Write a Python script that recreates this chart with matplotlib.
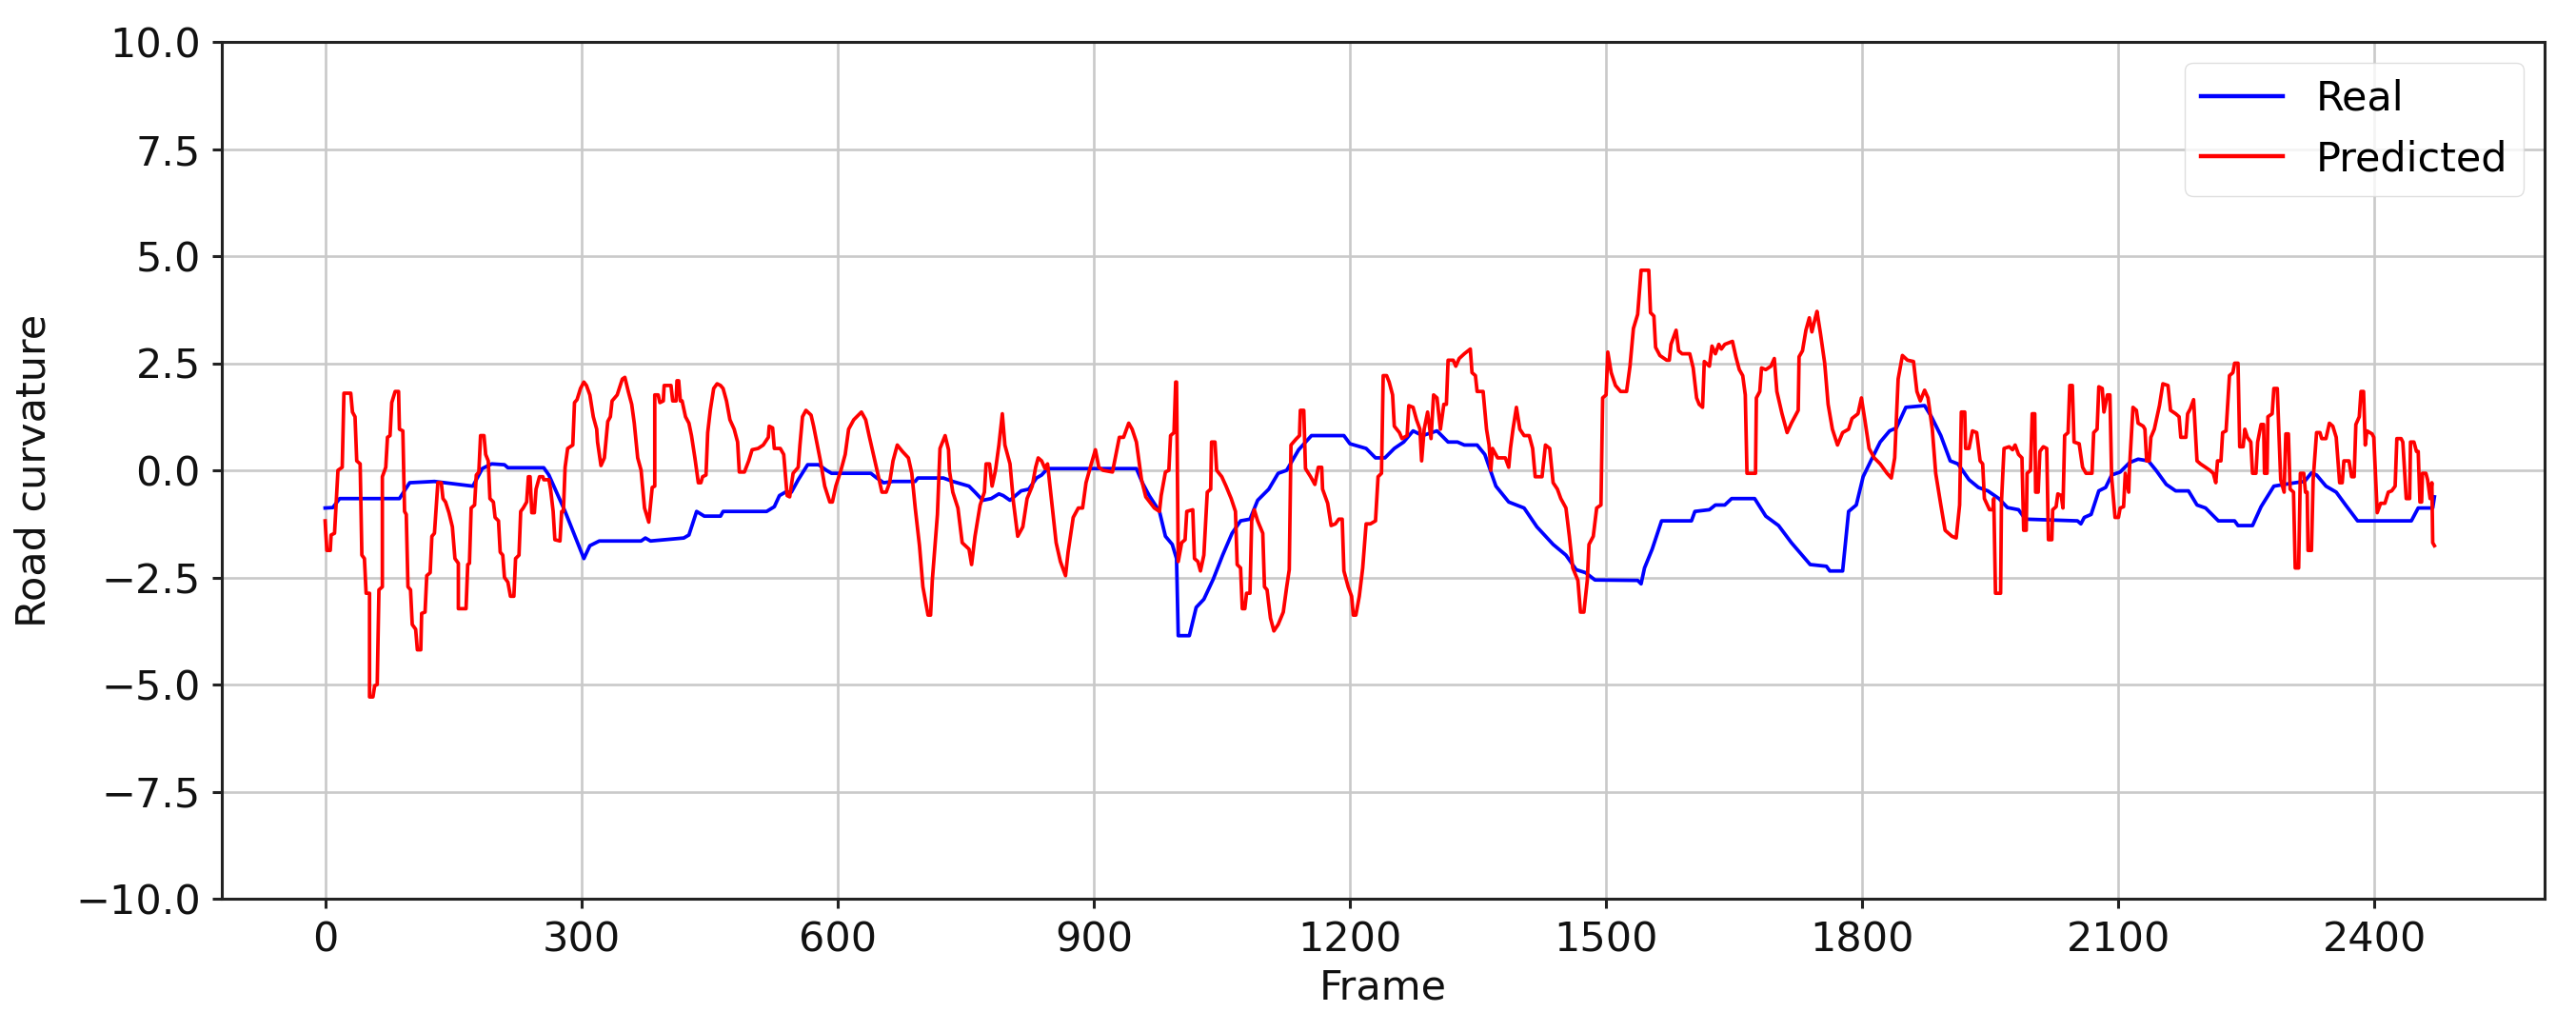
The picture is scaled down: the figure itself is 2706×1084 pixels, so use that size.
import matplotlib
matplotlib.use("Agg")
import matplotlib.pyplot as plt
import numpy as np

# ---------------- data ----------------
real_points = [
    (0, -0.88), (9, -0.87), (17, -0.66), (87, -0.66), (99, -0.29), (128, -0.26), (173, -0.37),
    (184, 0.04), (195, 0.15), (210, 0.13), (214, 0.06), (256, 0.06), (262, -0.11), (281, -0.96),
    (303, -2.06), (310, -1.76), (321, -1.65), (370, -1.65), (375, -1.58), (381, -1.65), (420, -1.58),
    (426, -1.51), (435, -0.96), (444, -1.07), (463, -1.07), (466, -0.96),
    (517, -0.96), (526, -0.85), (532, -0.59), (539, -0.51), (546, -0.51), (554, -0.22), (565, 0.13),
    (578, 0.13), (587, 0.0), (593, -0.07), (639, -0.07), (646, -0.18), (654, -0.29), (665, -0.26),
    (691, -0.26), (694, -0.18), (724, -0.18), (735, -0.26), (754, -0.37), (761, -0.51), (770, -0.70),
    (780, -0.66), (789, -0.55), (794, -0.59), (802, -0.70), (815, -0.48), (824, -0.44), (833, -0.18),
    (839, -0.11), (846, 0.04), (950, 0.04), (957, -0.29), (965, -0.59),
    (977, -0.96), (984, -1.54), (992, -1.73), (997, -2.06), (999, -3.86), (1012, -3.86), (1020, -3.20),
    (1029, -3.01), (1040, -2.54), (1051, -1.98), (1062, -1.47), (1072, -1.18), (1083, -1.14),
    (1092, -0.70), (1105, -0.44), (1116, -0.07), (1126, 0.0), (1140, 0.48), (1155, 0.81), (1193, 0.81),
    (1200, 0.62), (1219, 0.51), (1230, 0.29), (1241, 0.29), (1252, 0.51), (1263, 0.66), (1274, 0.92),
    (1285, 0.81), (1302, 0.92), (1315, 0.66), (1326, 0.66), (1334, 0.59), (1349, 0.59), (1358, 0.37),
    (1371, -0.37), (1386, -0.74), (1404, -0.88), (1419, -1.32), (1438, -1.73), (1453, -1.98),
    (1465, -2.32), (1476, -2.39), (1487, -2.56), (1537, -2.57), (1541, -2.65), (1545, -2.28),
    (1554, -1.84), (1565, -1.18), (1600, -1.18), (1604, -0.96), (1621, -0.92), (1628, -0.81),
    (1639, -0.81), (1647, -0.66), (1674, -0.66), (1687, -1.07), (1702, -1.29), (1717, -1.69),
    (1739, -2.20), (1758, -2.24), (1762, -2.35), (1777, -2.35), (1784, -0.96), (1793, -0.81),
    (1801, -0.15), (1810, 0.22), (1821, 0.66), (1832, 0.92), (1840, 0.99), (1851, 1.47), (1873, 1.51),
    (1881, 1.25), (1892, 0.81), (1903, 0.22), (1912, 0.15), (1925, -0.22), (1936, -0.40), (1947, -0.48),
    (1960, -0.66), (1970, -0.87), (1983, -0.92), (1991, -1.14), (2052, -1.18), (2056, -1.25),
    (2060, -1.10), (2068, -1.03), (2077, -0.48), (2085, -0.40), (2092, -0.11), (2102, -0.04),
    (2113, 0.18), (2123, 0.26), (2135, 0.22), (2144, 0.0), (2156, -0.33), (2167, -0.48), (2182, -0.48),
    (2192, -0.81), (2202, -0.88), (2217, -1.18), (2236, -1.18), (2240, -1.29), (2257, -1.29),
    (2267, -0.85), (2282, -0.37), (2294, -0.33), (2307, -0.29), (2318, -0.26), (2326, -0.06),
    (2332, -0.11), (2343, -0.37), (2355, -0.51), (2366, -0.81), (2380, -1.18), (2443, -1.18),
    (2451, -0.88), (2468, -0.88), (2470, -0.62),
]

predicted_points = [
    (0, -1.18), (2, -1.87), (6, -1.87), (7, -1.51), (11, -1.47), (15, 0.0), (20, 0.07), (22, 1.80),
    (30, 1.80), (32, 1.36), (35, 1.25), (37, 0.22), (41, 0.15), (43, -1.98), (46, -2.06), (48, -2.87),
    (52, -2.87), (52, -5.29), (56, -5.29), (58, -5.03), (61, -5.0), (63, -2.79), (67, -2.72),
    (67, -0.15), (71, 0.07), (73, 0.77), (76, 0.81), (78, 1.58), (82, 1.84), (86, 1.84), (87, 0.96),
    (91, 0.92), (93, -0.96), (95, -1.03), (97, -2.72), (100, -2.79), (102, -3.60), (106, -3.71),
    (108, -4.19), (112, -4.19), (113, -3.34), (117, -3.31), (119, -2.46), (123, -2.39), (125, -1.54),
    (128, -1.47), (130, -0.88), (132, -0.29), (136, -0.29), (138, -0.66), (141, -0.74), (145, -0.99),
    (149, -1.32), (152, -2.06), (156, -2.17), (156, -3.23), (165, -3.23), (167, -2.20), (169, -2.17),
    (171, -0.88), (175, -0.81), (177, -0.11), (180, -0.04), (182, 0.81), (186, 0.81), (188, 0.37),
    (191, 0.22), (193, -0.66), (197, -0.74), (199, -1.10), (203, -1.18), (205, -1.91), (208, -1.98),
    (210, -2.50), (214, -2.61), (217, -2.94), (221, -2.94), (223, -2.06), (227, -1.98), (229, -0.96),
    (232, -0.88), (236, -0.74), (238, -0.15), (240, -0.15), (242, -0.99), (245, -0.99), (247, -0.44),
    (251, -0.15), (255, -0.15), (256, -0.22), (262, -0.22), (264, -0.44), (267, -0.96), (269, -1.62),
    (275, -1.65), (277, -0.96), (279, -0.96), (281, 0.07), (284, 0.51), (290, 0.59), (292, 1.58),
    (295, 1.65), (299, 1.91), (303, 2.06), (306, 1.98), (310, 1.76), (314, 1.25), (318, 0.96),
    (319, 0.66), (323, 0.11), (327, 0.29), (331, 1.14), (334, 1.25), (336, 1.62), (342, 1.76),
    (348, 2.13), (351, 2.17), (355, 1.84), (359, 1.54), (362, 1.10), (366, 0.29), (370, 0.0),
    (374, -0.88), (379, -1.21), (383, -0.40), (386, -0.37), (386, 1.76), (390, 1.76), (392, 1.58),
    (396, 1.62), (397, 1.98), (405, 1.98), (407, 1.62), (411, 1.62), (412, 2.09), (414, 2.09),
    (416, 1.62), (418, 1.62), (422, 1.25), (426, 1.10), (429, 0.81), (433, 0.29), (437, -0.29),
    (440, -0.29), (442, -0.15), (446, -0.11), (448, 0.88), (451, 1.40), (455, 1.91), (459, 2.02),
    (463, 1.98), (466, 1.91), (470, 1.62), (474, 1.18), (479, 0.96), (483, 0.66),
    (485, -0.04), (491, -0.04), (496, 0.22), (500, 0.48), (507, 0.51), (513, 0.59), (519, 0.77),
    (520, 1.03), (524, 0.99), (526, 0.51), (533, 0.51), (537, 0.37), (541, -0.59), (544, -0.62),
    (548, -0.07), (554, 0.07), (556, 0.59), (559, 1.25), (563, 1.40), (569, 1.29), (572, 1.03),
    (576, 0.62), (580, 0.22), (585, -0.37), (591, -0.74), (594, -0.74), (598, -0.37), (604, 0.0),
    (609, 0.37), (613, 0.96), (619, 1.18), (628, 1.36), (633, 1.18), (637, 0.81), (643, 0.29),
    (648, -0.15), (652, -0.51), (657, -0.51), (661, -0.29), (665, 0.22), (670, 0.59), (676, 0.44),
    (683, 0.29), (687, -0.07), (691, -0.88), (696, -1.76), (700, -2.72), (706, -3.38), (709, -3.38),
    (711, -2.57), (717, -1.03), (720, 0.51), (726, 0.81), (730, 0.48), (731, 0.0), (735, -0.51),
    (741, -0.88), (746, -1.69), (754, -1.84), (757, -2.20), (761, -1.54), (767, -0.81), (772, -0.51),
    (774, 0.15), (778, 0.15), (781, -0.37), (785, 0.0), (789, 0.59), (793, 1.32), (796, 0.59),
    (802, 0.15), (806, -0.74), (811, -1.54), (817, -1.32), (822, -0.66), (828, -0.37), (832, 0.07),
    (835, 0.29), (839, 0.22), (843, 0.04), (846, 0.15), (850, -0.59), (856, -1.69), (861, -2.13),
    (867, -2.46), (870, -1.91), (876, -1.10), (882, -0.88), (887, -0.88), (891, -0.29), (896, 0.07),
    (902, 0.48), (906, 0.07), (911, 0.0), (922, -0.04), (926, 0.37), (930, 0.77), (935, 0.77),
    (941, 1.10), (945, 0.96), (950, 0.66), (956, -0.22), (961, -0.62),
    (971, -0.88), (977, -0.96), (979, -0.59), (984, -0.04), (988, 0.0), (990, 0.81), (994, 0.88),
    (996, 2.06), (997, 2.06), (999, -2.13), (1003, -1.69), (1007, -1.62), (1009, -0.96), (1016, -0.92),
    (1018, -2.06), (1022, -2.13), (1025, -2.35), (1029, -1.98), (1033, -0.51), (1037, -0.44),
    (1038, 0.66), (1042, 0.66), (1044, 0.0), (1050, -0.15), (1055, -0.37), (1061, -0.66),
    (1066, -0.96), (1068, -2.20), (1072, -2.28), (1074, -3.23), (1077, -3.23), (1079, -2.87),
    (1083, -2.87), (1085, -1.18), (1088, -0.92), (1092, -1.18), (1098, -1.47), (1100, -2.72),
    (1103, -2.79), (1107, -3.45), (1111, -3.75), (1116, -3.60), (1122, -3.31), (1126, -2.72),
    (1129, -2.32), (1131, 0.59), (1137, 0.73), (1141, 0.81), (1142, 1.40), (1146, 1.40), (1148, 0.04),
    (1154, -0.15), (1159, -0.33), (1163, 0.07), (1167, 0.07), (1168, -0.44), (1174, -0.77),
    (1178, -1.29), (1183, -1.25), (1187, -1.14), (1191, -1.14), (1193, -2.35), (1198, -2.72),
    (1202, -2.94), (1204, -3.38), (1207, -3.38), (1211, -2.94), (1215, -2.28), (1219, -1.25),
    (1224, -1.25), (1230, -1.18), (1233, -0.15), (1237, -0.07), (1239, 2.21), (1243, 2.21),
    (1246, 2.06), (1250, 1.76), (1252, 1.03), (1258, 0.88), (1261, 0.74), (1267, 0.81), (1269, 1.51),
    (1274, 1.47), (1278, 1.18), (1282, 0.96), (1284, 0.22), (1287, 0.96), (1291, 1.36), (1295, 0.74),
    (1298, 1.76), (1302, 1.69), (1306, 0.96), (1310, 1.54), (1313, 1.54), (1315, 2.57), (1321, 2.57),
    (1324, 2.43), (1328, 2.61), (1334, 2.72), (1341, 2.83), (1343, 2.28), (1347, 2.21), (1349, 1.84),
    (1356, 1.84), (1360, 0.96), (1363, 0.59), (1365, 0.0), (1367, 0.51), (1373, 0.29), (1382, 0.29),
    (1386, 0.07), (1388, 0.51), (1391, 0.96), (1395, 1.47), (1399, 0.96), (1404, 0.81), (1410, 0.81),
    (1414, 0.51), (1417, -0.15), (1425, -0.15), (1429, 0.59), (1434, 0.51), (1438, -0.29),
    (1443, -0.44), (1447, -0.66), (1453, -0.88),
    (1457, -1.54), (1461, -2.28), (1467, -2.57), (1470, -3.31), (1474, -3.31), (1478, -2.57),
    (1480, -1.73), (1485, -1.54), (1489, -0.88), (1494, -0.81), (1496, 1.69), (1500, 1.76),
    (1502, 2.76), (1506, 2.28), (1511, 1.98), (1517, 1.84), (1524, 1.84), (1528, 2.43), (1532, 3.31),
    (1537, 3.64), (1541, 4.67), (1550, 4.67), (1552, 3.68), (1556, 3.60), (1558, 2.87), (1563, 2.68),
    (1571, 2.57), (1574, 2.57), (1576, 2.94), (1582, 3.27), (1585, 2.79), (1589, 2.72), (1598, 2.72),
    (1602, 2.39), (1606, 1.69), (1609, 1.54), (1613, 1.47), (1615, 2.54), (1621, 2.43), (1624, 2.90),
    (1628, 2.72), (1632, 2.94), (1635, 2.83), (1639, 2.94), (1648, 3.01), (1652, 2.65), (1656, 2.35),
    (1660, 2.21), (1663, 1.76), (1665, -0.07), (1675, -0.07), (1676, 1.69), (1680, 1.84), (1682, 2.39),
    (1687, 2.35), (1693, 2.43), (1697, 2.61), (1700, 1.84), (1706, 1.32), (1712, 0.88), (1717, 1.10),
    (1725, 1.40), (1726, 2.65), (1730, 2.79), (1734, 3.27), (1738, 3.56), (1741, 3.23), (1745, 3.56),
    (1747, 3.71), (1751, 3.20), (1756, 2.50), (1760, 1.54), (1765, 0.96), (1771, 0.59), (1777, 0.88),
    (1784, 0.96), (1788, 1.21), (1795, 1.32), (1799, 1.69), (1803, 1.18), (1808, 0.51), (1814, 0.29),
    (1821, 0.15), (1829, -0.07), (1834, -0.18), (1838, 0.29), (1842, 2.13), (1847, 2.68), (1853, 2.57),
    (1860, 2.54), (1864, 1.84), (1868, 1.62), (1873, 1.87), (1877, 1.69), (1882, 0.96), (1886, -0.07),
    (1892, -0.81), (1897, -1.40), (1905, -1.54), (1910, -1.58), (1914, -0.81), (1916, 1.36),
    (1920, 1.36), (1921, 0.51), (1925, 0.51), (1929, 0.92), (1934, 0.88), (1938, 0.22),
    (1941, 0.15), (1943, -0.66), (1949, -0.92), (1953, -0.92), (1954, -0.66), (1956, -2.87),
    (1962, -2.87), (1963, -0.74), (1966, 0.51), (1972, 0.55), (1976, 0.48), (1979, 0.59), (1983, 0.37),
    (1987, 0.29), (1989, -1.40), (1992, -1.40), (1993, -0.07), (1997, 0.0), (1999, 1.32), (2002, 1.32),
    (2003, -0.51), (2006, -0.51), (2008, 0.44), (2012, 0.55), (2016, 0.51), (2018, -1.62), (2022, -1.62),
    (2023, -0.92), (2027, -0.85), (2029, -0.55), (2033, -0.59), (2035, -0.88), (2037, 0.81), (2041, 0.88),
    (2043, 1.98), (2046, 1.98), (2048, 0.66), (2054, 0.62), (2058, 0.07), (2062, -0.07), (2069, -0.07),
    (2071, 0.88), (2075, 0.96), (2077, 1.95), (2081, 1.91), (2083, 1.36), (2087, 1.76), (2090, 1.76),
    (2092, -0.15), (2096, -1.10), (2100, -1.10), (2102, -0.88), (2106, -0.85), (2108, -0.07),
    (2112, -0.51), (2113, 0.07), (2117, 1.47), (2121, 1.40), (2123, 1.10), (2129, 1.03), (2131, 0.96),
    (2133, 0.22), (2136, 0.22), (2138, 0.77), (2142, 0.96), (2144, 1.14), (2148, 1.51), (2152, 2.02),
    (2158, 1.98), (2161, 1.40), (2167, 1.32), (2171, 1.25), (2173, 0.77), (2179, 0.77), (2181, 1.32),
    (2184, 1.43), (2188, 1.65), (2192, 0.22), (2196, 0.15), (2202, 0.07), (2207, 0.0), (2211, -0.07),
    (2214, -0.29), (2216, 0.22), (2220, 0.22), (2222, 0.88), (2226, 0.92), (2230, 2.21), (2234, 2.28),
    (2236, 2.50), (2240, 2.50), (2242, 0.55), (2246, 0.55), (2248, 0.96), (2251, 0.77), (2255, 0.66),
    (2257, -0.07), (2261, -0.07), (2263, 0.66), (2267, 1.07), (2270, 1.07), (2271, -0.07), (2274, -0.07),
    (2275, 1.25), (2280, 1.32), (2282, 1.91), (2286, 1.91), (2288, 0.81), (2290, -0.22), (2294, -0.51),
    (2296, 0.85), (2299, 0.85), (2301, -0.44), (2305, -0.51), (2307, -2.28), (2311, -2.28),
    (2313, -0.07), (2317, -0.07), (2319, -0.51), (2321, -0.51), (2322, -1.87), (2326, -1.87),
    (2328, -0.22), (2332, 0.88), (2336, 0.88), (2338, 0.74), (2343, 0.74), (2347, 1.10), (2351, 1.03),
    (2355, 0.77), (2359, -0.29), (2362, -0.29), (2364, 0.22), (2370, 0.22), (2373, -0.15), (2376, -0.15),
    (2378, 1.07), (2382, 1.25), (2384, 1.84), (2387, 1.84), (2389, 0.59), (2391, 0.92), (2397, 0.85),
    (2399, 0.77), (2403, -0.99), (2407, -0.77), (2412, -0.77), (2416, -0.51), (2420, -0.48),
    (2424, -0.37), (2426, 0.74), (2431, 0.74), (2433, 0.66), (2437, -0.66), (2441, -0.66), (2442, 0.66),
    (2446, 0.66), (2449, 0.44), (2451, 0.44), (2453, -0.74), (2455, -0.74), (2456, -0.07), (2460, -0.07),
    (2462, -0.22), (2465, -0.66), (2467, -0.29), (2468, -1.69), (2470, -1.76),
]

x_ticks = [0, 300, 600, 900, 1200, 1500, 1800, 2100, 2400]
y_ticks = [-10.0, -7.5, -5.0, -2.5, 0.0, 2.5, 5.0, 7.5, 10.0]
series_labels = ["Real", "Predicted"]

real_frame = [p[0] for p in real_points]
real_value = [p[1] for p in real_points]
pred_frame = [p[0] for p in predicted_points]
pred_value = [p[1] for p in predicted_points]

# ---------------- figure ----------------
FS = 31
plt.rcParams["font.family"] = ["DejaVu Sans"]

fig = plt.figure(figsize=(27.06, 10.84), dpi=100)
W, H = 2706, 1084
left, right, top, bottom = 233, 2673, 44, 944
ax = fig.add_axes([left / W, 1 - bottom / H, (right - left) / W, (bottom - top) / H])

ax.plot(real_frame, real_value, color="#0000ff", lw=2.7, label=series_labels[0], zorder=3)
ax.plot(pred_frame, pred_value, color="#ff0000", lw=2.7, label=series_labels[1], zorder=3)

ax.set_xlim(-121, 2599)
ax.set_ylim(-10, 10)
ax.set_xticks(x_ticks)
ax.set_yticks(y_ticks)
ax.set_yticklabels([f"{v:.1f}".replace("-", "\u2212") for v in y_ticks])

ax.grid(True, color="#c9c9c9", lw=1.9)
ax.set_axisbelow(True)

for s in ax.spines.values():
    s.set_linewidth(2.2)
    s.set_color("#222222")

ax.tick_params(axis="both", labelsize=FS, length=7, width=2.2, pad=9, colors="#222222",
               labelcolor="#111111")
ax.set_xlabel("Frame", fontsize=FS, labelpad=6, color="#111111")
ax.set_ylabel("Road curvature", fontsize=FS, labelpad=16, color="#111111")

leg = ax.legend(loc="upper right", fontsize=FS, frameon=True, fancybox=True,
                framealpha=0.8, edgecolor="#d8d8d8", borderaxespad=0.5)
for line in leg.get_lines():
    line.set_linewidth(3.2)

fig.savefig("out.png", dpi=100)
